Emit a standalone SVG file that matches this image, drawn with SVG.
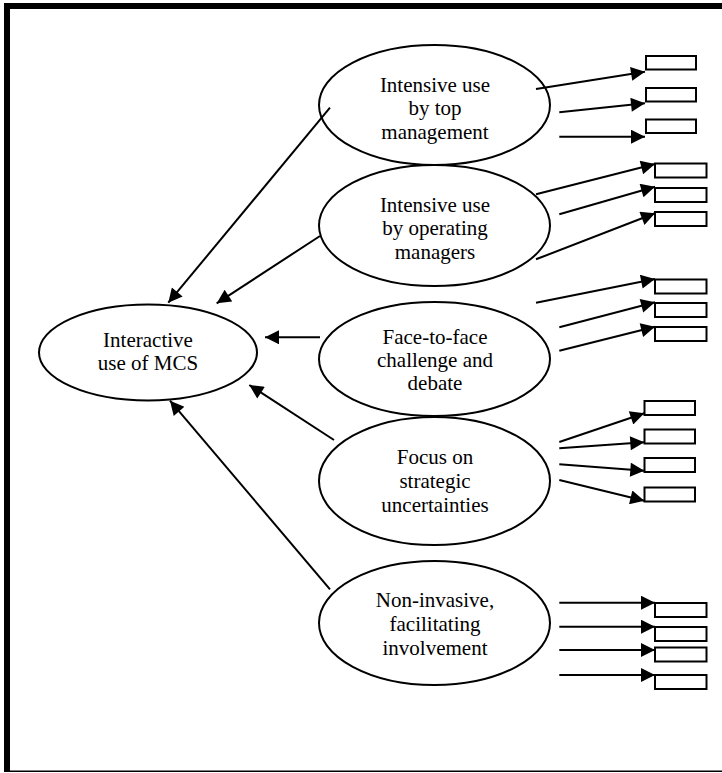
<svg xmlns="http://www.w3.org/2000/svg" width="722" height="773" viewBox="0 0 722 773">
<defs>
<style>
.el{fill:#fff;stroke:#000;stroke-width:2}
.bx{fill:#fff;stroke:#000;stroke-width:2}
.t{font-family:'Liberation Serif','DejaVu Serif',serif;font-size:21px;fill:#000;text-anchor:middle}
.c{stroke:#000;stroke-width:2;fill:none;marker-end:url(#ah)}
</style>
<marker id="ah" viewBox="0 0 10 10" refX="10" refY="5" markerWidth="8" markerHeight="7" markerUnits="strokeWidth" orient="auto">
<path d="M0,0 L10,5 L0,10 z" fill="#000"/>
</marker>
</defs>
<rect x="0" y="0" width="722" height="773" fill="#fff"/>
<g id="frame">
<rect x="4" y="3" width="718" height="6" fill="#000"/>
<rect x="4" y="3" width="6" height="769" fill="#000"/>
<line x1="4" y1="771.3" x2="722" y2="771.3" stroke="#000" stroke-width="1.5"/>
</g>
<g id="main" font-family="Liberation Serif, serif">
<ellipse class="el" cx="148" cy="352.5" rx="109" ry="48"/>
<text class="t" x="148" y="346.5">Interactive</text>
<text class="t" x="148" y="370">use of MCS</text>
</g>
<g id="n1">
<ellipse class="el" cx="434.5" cy="105" rx="115.5" ry="60"/>
<text class="t" x="435" y="91.5">Intensive use</text>
<text class="t" x="435" y="115">by top</text>
<text class="t" x="435" y="139">management</text>
</g>
<g id="n2">
<ellipse class="el" cx="434.5" cy="225.5" rx="115.5" ry="60.5"/>
<text class="t" x="435" y="211.5">Intensive use</text>
<text class="t" x="435" y="235">by operating</text>
<text class="t" x="435" y="259">managers</text>
</g>
<g id="n3">
<ellipse class="el" cx="434.5" cy="359" rx="115.5" ry="57"/>
<text class="t" x="435" y="343.5">Face-to-face</text>
<text class="t" x="435" y="367">challenge and</text>
<text class="t" x="435" y="390">debate</text>
</g>
<g id="n4">
<ellipse class="el" cx="434.5" cy="481" rx="115.5" ry="64"/>
<text class="t" x="435" y="463.5">Focus on</text>
<text class="t" x="435" y="487.5">strategic</text>
<text class="t" x="435" y="511.5">uncertainties</text>
</g>
<g id="n5">
<ellipse class="el" cx="434.5" cy="623" rx="115.5" ry="62"/>
<text class="t" x="435" y="606.5">Non-invasive,</text>
<text class="t" x="435" y="630.5">facilitating</text>
<text class="t" x="435" y="655">involvement</text>
</g>
<g id="boxes">
<rect class="bx" x="646" y="56" width="50" height="13.5"/>
<rect class="bx" x="646" y="88" width="50" height="13.5"/>
<rect class="bx" x="646" y="119.5" width="50" height="13.5"/>
<rect class="bx" x="655" y="163.5" width="51.5" height="14"/>
<rect class="bx" x="655" y="188" width="51.5" height="14"/>
<rect class="bx" x="655" y="212" width="51.5" height="14"/>
<rect class="bx" x="655" y="279.5" width="51.5" height="14"/>
<rect class="bx" x="655" y="303" width="51.5" height="14"/>
<rect class="bx" x="655" y="327" width="51.5" height="14"/>
<rect class="bx" x="644.5" y="401" width="50.5" height="14"/>
<rect class="bx" x="644.5" y="429.5" width="50.5" height="14"/>
<rect class="bx" x="644.5" y="458" width="50.5" height="14"/>
<rect class="bx" x="644.5" y="487.5" width="50.5" height="14"/>
<rect class="bx" x="655" y="603" width="51.5" height="14"/>
<rect class="bx" x="655" y="627" width="51.5" height="14"/>
<rect class="bx" x="655" y="647.5" width="51.5" height="14"/>
<rect class="bx" x="655" y="675" width="51.5" height="14"/>
</g>
<g id="connectors">
<line class="c" x1="330" y1="107.7" x2="168.3" y2="302.7"/>
<line class="c" x1="320" y1="236" x2="216.7" y2="303.3"/>
<line class="c" x1="320" y1="337.3" x2="265" y2="337.3"/>
<line class="c" x1="334" y1="440" x2="249.3" y2="385"/>
<line class="c" x1="330" y1="589.3" x2="170" y2="400.7"/>
<line class="c" x1="536" y1="89" x2="645" y2="71.7"/>
<line class="c" x1="559.3" y1="112.3" x2="645" y2="103.3"/>
<line class="c" x1="559.3" y1="136.7" x2="645" y2="136.7"/>
<line class="c" x1="536" y1="194.3" x2="655" y2="164"/>
<line class="c" x1="559.3" y1="214.3" x2="655" y2="186.7"/>
<line class="c" x1="536" y1="259.3" x2="655" y2="213.3"/>
<line class="c" x1="536" y1="302.7" x2="655" y2="279"/>
<line class="c" x1="559.3" y1="327.3" x2="655" y2="302.3"/>
<line class="c" x1="559.3" y1="350.7" x2="655" y2="326.7"/>
<line class="c" x1="559.3" y1="442" x2="644.3" y2="413.3"/>
<line class="c" x1="559.3" y1="448.3" x2="644.3" y2="442.3"/>
<line class="c" x1="559.3" y1="464.3" x2="644.3" y2="470.7"/>
<line class="c" x1="559.3" y1="480" x2="644.3" y2="500.7"/>
<line class="c" x1="559.3" y1="602.7" x2="655" y2="602.7"/>
<line class="c" x1="559.3" y1="626.7" x2="655" y2="626.7"/>
<line class="c" x1="559.3" y1="650" x2="655" y2="650"/>
<line class="c" x1="559.3" y1="675" x2="655" y2="675"/>
</g>
</svg>
